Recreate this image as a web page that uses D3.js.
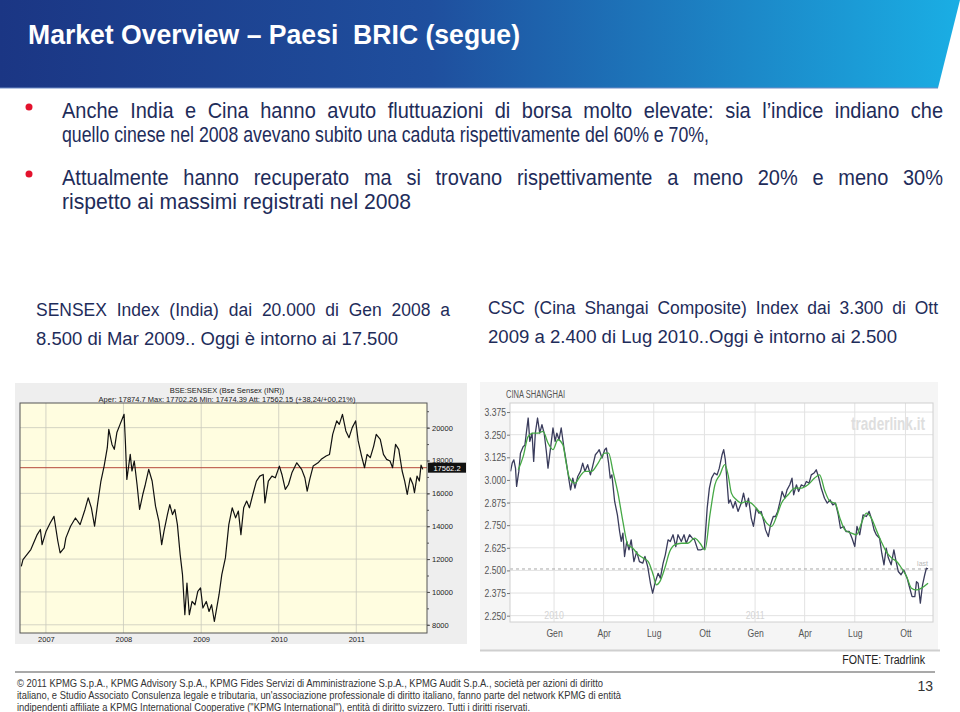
<!DOCTYPE html>
<html>
<head>
<meta charset="utf-8">
<script src="https://cdn.jsdelivr.net/npm/d3@7"></script>
<style>
  body { margin: 0; background: #fff; }
  svg { display: block; }
  text { font-family: "Liberation Sans", Arial, sans-serif; }
</style>
</head>
<body>
<svg id="slide" width="960" height="712"></svg>
<script>
// ---- data ----
const sensexDates = ["2006-09-07","2006-09-15","2006-10-22","2006-11-21","2006-12-06","2006-12-14","2007-01-02","2007-01-21","2007-02-08","2007-02-26","2007-03-09","2007-03-28","2007-04-05","2007-04-27","2007-05-20","2007-06-11","2007-07-04","2007-07-19","2007-08-03","2007-08-18","2007-09-02","2007-09-17","2007-10-02","2007-10-17","2007-10-24","2007-11-08","2007-11-19","2007-12-01","2007-12-16","2008-01-04","2008-01-10","2008-01-17","2008-02-02","2008-02-10","2008-02-21","2008-03-05","2008-03-17","2008-04-01","2008-04-13","2008-04-29","2008-05-15","2008-05-31","2008-06-16","2008-06-29","2008-07-10","2008-07-26","2008-08-06","2008-08-19","2008-08-30","2008-09-11","2008-09-24","2008-10-05","2008-10-16","2008-10-26","2008-11-06","2008-11-19","2008-12-03","2008-12-16","2008-12-29","2009-01-09","2009-01-25","2009-02-07","2009-02-19","2009-03-04","2009-03-15","2009-03-26","2009-04-08","2009-04-25","2009-05-11","2009-05-27","2009-06-12","2009-06-25","2009-07-07","2009-07-20","2009-08-03","2009-08-16","2009-09-01","2009-09-18","2009-10-04","2009-10-20","2009-10-28","2009-11-13","2009-11-30","2009-12-16","2010-01-04","2010-01-16","2010-02-01","2010-02-16","2010-03-04","2010-03-27","2010-04-19","2010-05-04","2010-05-15","2010-05-27","2010-06-12","2010-07-05","2010-07-20","2010-08-12","2010-08-28","2010-09-12","2010-10-01","2010-10-13","2010-10-28","2010-11-13","2010-11-28","2010-12-13","2010-12-29","2011-01-10","2011-01-26","2011-02-09","2011-02-21","2011-03-08","2011-03-24","2011-04-05","2011-04-24","2011-05-09","2011-05-24","2011-06-09","2011-06-21","2011-07-05","2011-07-20","2011-08-05","2011-08-17","2011-08-29","2011-09-12","2011-09-25","2011-10-02","2011-10-14","2011-10-25","2011-11-02","2011-11-10"];
const sensexValues = [11560,11970,12580,13490,13800,12880,13700,14200,14600,13100,12370,12680,13290,14000,14500,14100,15020,15730,15120,14000,15420,16750,17660,18780,19900,18980,18680,19700,20200,20810,19190,16850,18370,17360,17970,16540,15020,15930,16540,17460,16750,15220,14300,12880,13700,14710,15320,14710,15020,14100,12270,11050,8610,10540,8610,9420,9220,10030,10240,9020,9420,8810,9220,8200,9020,9830,11050,12070,14100,15120,14510,14920,13490,15120,15530,15120,15930,16750,17050,17150,15420,16750,17050,16950,17660,17150,16240,16540,17250,17860,17460,16950,16140,16850,17660,17860,18070,18270,18370,19590,20410,20200,20810,19800,19390,20000,20410,19190,18270,17560,18370,18170,18880,19590,19290,18370,18070,17970,17560,18980,18680,17360,16750,15930,16950,16540,16040,17050,16750,17720,17460];
const sensexTicks = [8000,10000,12000,14000,16000,18000,20000];
const sensexYears = ["2007","2008","2009","2010","2011"];
const sensexLast = 17562.2;
const sensexTitle = "BSE:SENSEX (Bse Sensex (INR))";
const sensexInfo = "Aper: 17874.7 Max: 17702.26 Min: 17474.39 Att: 17562.15 (+38,24/+00,21%)";

const cscDates = ["2009-10-14","2009-10-17","2009-10-20","2009-10-23","2009-10-25","2009-10-29","2009-11-01","2009-11-06","2009-11-09","2009-11-12","2009-11-15","2009-11-18","2009-11-22","2009-11-25","2009-11-28","2009-12-02","2009-12-06","2009-12-10","2009-12-14","2009-12-18","2009-12-21","2009-12-26","2009-12-30","2010-01-03","2010-01-06","2010-01-10","2010-01-14","2010-01-19","2010-01-23","2010-01-28","2010-01-31","2010-02-04","2010-02-08","2010-02-13","2010-02-18","2010-02-22","2010-02-26","2010-03-03","2010-03-08","2010-03-12","2010-03-17","2010-03-21","2010-03-24","2010-03-29","2010-04-03","2010-04-06","2010-04-10","2010-04-13","2010-04-16","2010-04-21","2010-04-26","2010-04-30","2010-05-03","2010-05-06","2010-05-09","2010-05-13","2010-05-17","2010-05-21","2010-05-26","2010-05-31","2010-06-05","2010-06-11","2010-06-15","2010-06-20","2010-06-25","2010-06-29","2010-07-04","2010-07-09","2010-07-13","2010-07-18","2010-07-22","2010-07-27","2010-07-31","2010-08-05","2010-08-10","2010-08-14","2010-08-20","2010-08-25","2010-08-29","2010-09-04","2010-09-09","2010-09-13","2010-09-19","2010-09-25","2010-10-01","2010-10-06","2010-10-10","2010-10-14","2010-10-19","2010-10-24","2010-10-28","2010-11-02","2010-11-05","2010-11-08","2010-11-11","2010-11-14","2010-11-17","2010-11-22","2010-11-26","2010-12-01","2010-12-07","2010-12-11","2010-12-16","2010-12-20","2010-12-25","2010-12-29","2011-01-03","2011-01-08","2011-01-12","2011-01-17","2011-01-20","2011-01-25","2011-01-29","2011-02-03","2011-02-07","2011-02-11","2011-02-16","2011-02-19","2011-02-24","2011-02-28","2011-03-05","2011-03-09","2011-03-12","2011-03-17","2011-03-21","2011-03-26","2011-03-31","2011-04-04","2011-04-09","2011-04-13","2011-04-18","2011-04-22","2011-04-26","2011-05-01","2011-05-07","2011-05-12","2011-05-17","2011-05-22","2011-05-27","2011-06-01","2011-06-05","2011-06-11","2011-06-15","2011-06-21","2011-06-26","2011-07-01","2011-07-05","2011-07-10","2011-07-16","2011-07-22","2011-07-27","2011-07-31","2011-08-05","2011-08-09","2011-08-15","2011-08-19","2011-08-23","2011-08-27","2011-08-31","2011-09-05","2011-09-10","2011-09-14","2011-09-18","2011-09-23","2011-09-28","2011-10-04","2011-10-08","2011-10-13","2011-10-18","2011-10-21","2011-10-24","2011-10-28","2011-11-01","2011-11-05","2011-11-08","2011-11-11"];
const cscValues = [3047,3093,3111,3065,2964,3047,3148,3185,3191,3268,3342,3213,3259,3102,3259,3342,3259,3305,3259,3157,3065,3185,3287,3213,3259,3222,3287,3176,3102,3001,2945,3010,2955,3019,3047,3093,3047,3084,3028,3075,3139,3154,3167,3121,3167,3176,3093,3010,3028,2881,2807,2715,2660,2706,2577,2660,2614,2669,2549,2604,2549,2540,2577,2521,2429,2374,2438,2484,2457,2540,2586,2669,2660,2697,2632,2697,2660,2697,2650,2697,2678,2669,2614,2614,2623,2844,2955,3010,3038,3028,3065,3139,3167,3111,2991,2872,2890,2844,2881,2826,2872,2927,2853,2899,2789,2743,2844,2816,2826,2770,2724,2687,2752,2798,2798,2826,2890,2936,2899,2945,2973,3010,2918,2973,2936,2973,2964,2991,2982,3028,3038,3056,3019,2955,2899,2872,2890,2862,2872,2807,2733,2743,2715,2715,2678,2632,2743,2697,2807,2798,2826,2789,2724,2697,2678,2595,2531,2623,2568,2531,2614,2549,2494,2476,2503,2457,2411,2355,2355,2438,2429,2319,2420,2476,2512,2508];
const cscAvgDates = ["2009-10-28","2009-11-06","2009-11-15","2009-11-24","2009-12-03","2009-12-12","2009-12-21","2009-12-30","2010-01-08","2010-01-17","2010-01-23","2010-01-29","2010-02-08","2010-02-17","2010-02-26","2010-03-10","2010-03-22","2010-04-03","2010-04-10","2010-04-18","2010-04-27","2010-05-06","2010-05-15","2010-05-24","2010-06-03","2010-06-12","2010-06-21","2010-06-30","2010-07-06","2010-07-12","2010-07-21","2010-07-30","2010-08-08","2010-08-20","2010-09-01","2010-09-13","2010-09-23","2010-10-02","2010-10-11","2010-10-20","2010-10-29","2010-11-07","2010-11-13","2010-11-19","2010-11-28","2010-12-07","2010-12-16","2010-12-25","2011-01-03","2011-01-13","2011-01-22","2011-01-31","2011-02-09","2011-02-18","2011-03-02","2011-03-14","2011-03-26","2011-04-07","2011-04-19","2011-04-28","2011-05-08","2011-05-17","2011-05-26","2011-06-04","2011-06-13","2011-06-25","2011-07-04","2011-07-13","2011-07-22","2011-07-31","2011-08-09","2011-08-18","2011-08-27","2011-09-06","2011-09-15","2011-09-24","2011-10-03","2011-10-12","2011-10-21","2011-10-30","2011-11-11"];
const cscAvgValues = [3056,3130,3240,3259,3259,3268,3204,3167,3222,3194,3093,3010,2982,3019,3047,3047,3093,3148,3148,3047,2927,2770,2641,2623,2586,2568,2549,2476,2420,2438,2512,2604,2641,2650,2650,2678,2650,2614,2807,2973,3028,3084,3028,2927,2890,2872,2881,2872,2844,2807,2761,2743,2798,2872,2918,2955,2955,2973,3010,3028,2936,2881,2872,2789,2724,2706,2697,2761,2816,2789,2724,2660,2604,2568,2549,2512,2466,2402,2392,2402,2429];
const cscTicks = [2250,2375,2500,2625,2750,2875,3000,3125,3250,3375];
const cscQuarters = ["2010-01-01","2010-04-01","2010-07-01","2010-10-01","2011-01-01","2011-04-01","2011-07-01","2011-10-01"];
const cscMonthNames = ["Gen","Apr","Lug","Ott","Gen","Apr","Lug","Ott"];
const cscYears = ["2010","2011"];

const bullets = [
  ["Anche India e Cina hanno avuto fluttuazioni di borsa molto elevate: sia l\u2019indice indiano che",
   "quello cinese nel 2008 avevano subito una caduta rispettivamente del 60% e 70%,"],
  ["Attualmente hanno recuperato ma si trovano rispettivamente a meno 20% e meno 30%",
   "rispetto ai massimi registrati nel 2008"]
];
const captionLeft = ["SENSEX Index (India) dai 20.000 di Gen 2008 a", "8.500 di Mar 2009.. Oggi \u00e8 intorno ai 17.500"];
const captionRight = ["CSC (Cina Shangai Composite) Index dai 3.300 di Ott", "2009 a 2.400 di Lug 2010..Oggi \u00e8 intorno ai 2.500"];
const footerLines = [
  "\u00a9 2011 KPMG S.p.A., KPMG Advisory S.p.A., KPMG Fides Servizi di Amministrazione S.p.A., KPMG Audit S.p.A., societ\u00e0 per azioni di diritto",
  "italiano, e Studio Associato Consulenza legale e tributaria, un'associazione professionale di diritto italiano, fanno parte del network KPMG di entit\u00e0",
  "indipendenti affiliate a KPMG International Cooperative (\"KPMG International\"), entit\u00e0 di diritto svizzero. Tutti i diritti riservati."
];

const parse = d3.timeParse("%Y-%m-%d");
const svg = d3.select("#slide");
const navy = "#1e2c5a";

// squeeze text horizontally (the original uses a condensed face)
function condense(sel, k) {
  sel.each(function () {
    const w = this.getComputedTextLength();
    d3.select(this).attr("textLength", w * k).attr("lengthAdjust", "spacingAndGlyphs");
  });
}

// paragraph in a condensed face: full lines justified, last line fitted
function paragraph(lines, x, y0, lh, size, widths, k) {
  lines.forEach((t, j) => {
    const n = svg.append("text")
      .attr("x", x / k).attr("y", y0 + j * lh).attr("transform", `scale(${k},1)`)
      .attr("font-size", size).attr("fill", navy).text(t);
    const w = n.node().getComputedTextLength();
    if (j < lines.length - 1) {
      const spaces = t.split(" ").length - 1;
      n.attr("word-spacing", (widths[j] / k - w) / spaces);
    } else {
      n.attr("textLength", widths[j] / k).attr("lengthAdjust", "spacingAndGlyphs");
    }
  });
}

// ---- header band ----
const defs = svg.append("defs");
const grad = defs.append("linearGradient").attr("id", "band");
grad.append("stop").attr("offset", "0%").attr("stop-color", "#1b3684");
grad.append("stop").attr("offset", "45%").attr("stop-color", "#1f4f9e");
grad.append("stop").attr("offset", "100%").attr("stop-color", "#1aaee4");
svg.append("path").attr("d", "M0,0 L960,0 L938,88 L0,88 Z").attr("fill", "url(#band)");
svg.append("line").attr("x1", 0).attr("x2", 938).attr("y1", 88).attr("y2", 88)
  .attr("stroke", "#6f8cc6").attr("stroke-width", 1);
svg.append("text").attr("x", 28).attr("y", 44)
  .attr("fill", "#fff").attr("font-size", 27).attr("font-weight", "bold")
  .attr("textLength", 492).attr("lengthAdjust", "spacingAndGlyphs")
  .text("Market Overview \u2013 Paesi  BRIC (segue)").style("white-space", "pre");

// ---- bullets ----
const bulletY = [118, 185];
const lineWidths = [[881, 647], [881, 349]];
bullets.forEach((lines, i) => {
  svg.append("circle").attr("cx", 29).attr("cy", bulletY[i] - 11).attr("r", 3.5).attr("fill", "#e3122d");
  paragraph(lines, 62, bulletY[i], 24, 21.5, lineWidths[i], 0.93);
});

// ---- captions ----
paragraph(captionLeft, 36, 316, 29, 19, [414, 362], 0.92);
paragraph(captionRight, 488, 314, 29, 19, [450, 409], 0.92);

// ---- left chart: SENSEX ----
(function () {
  const m = { left: 20, right: 427, top: 403, bottom: 633 };
  svg.append("rect").attr("x", 15).attr("y", 383).attr("width", 452).attr("height", 261).attr("fill", "#eeeeee");
  svg.append("rect").attr("x", m.left).attr("y", m.top).attr("width", m.right - m.left).attr("height", m.bottom - m.top)
    .attr("fill", "#fffde0");

  const x = d3.scaleTime().domain([parse("2006-09-01"), parse("2011-11-30")]).range([m.left, m.right]);
  const y = d3.scaleLinear().domain([7500, 21500]).range([m.bottom, m.top]);
  const yearDates = sensexYears.map(s => parse(s + "-01-01"));

  const g = svg.append("g");
  g.selectAll("line.vg").data(yearDates).join("line")
    .attr("x1", d => x(d)).attr("x2", d => x(d)).attr("y1", m.top).attr("y2", m.bottom)
    .attr("stroke", "#c9c9bd").attr("stroke-width", 0.8);
  g.selectAll("line.hg").data(sensexTicks).join("line")
    .attr("x1", m.left).attr("x2", m.right).attr("y1", d => y(d)).attr("y2", d => y(d))
    .attr("stroke", "#c9c9bd").attr("stroke-width", 0.8);

  // last price line
  g.append("line").attr("x1", m.left).attr("x2", m.right).attr("y1", y(sensexLast)).attr("y2", y(sensexLast))
    .attr("stroke", "#b5473a").attr("stroke-width", 1);

  const pts = sensexDates.map((d, i) => [parse(d), sensexValues[i]]);
  g.append("path").datum(pts)
    .attr("d", d3.line().x(d => x(d[0])).y(d => y(d[1])))
    .attr("fill", "none").attr("stroke", "#111").attr("stroke-width", 1.2).attr("stroke-linejoin", "round");

  g.append("rect").attr("x", m.left).attr("y", m.top).attr("width", m.right - m.left).attr("height", m.bottom - m.top)
    .attr("fill", "none").attr("stroke", "#555").attr("stroke-width", 1);

  // right axis
  const ya = svg.append("g").attr("transform", `translate(${m.right},0)`)
    .call(d3.axisRight(y).tickValues(sensexTicks).tickSize(3).tickPadding(2).tickFormat(d3.format("d")));
  ya.select(".domain").remove();
  ya.selectAll("text").attr("font-size", 7.5).attr("fill", "#222");
  ya.selectAll("line").attr("stroke", "#555");
  svg.append("g").attr("transform", `translate(${m.right},0)`)
    .call(d3.axisRight(y).ticks(14).tickSize(2).tickFormat(""))
    .call(s => s.select(".domain").remove())
    .selectAll("line").attr("stroke", "#555");

  // bottom axis
  const xa = svg.append("g").attr("transform", `translate(0,${m.bottom})`)
    .call(d3.axisBottom(x).tickValues(yearDates).tickSize(0).tickPadding(4).tickFormat(d3.timeFormat("%Y")));
  xa.select(".domain").remove();
  xa.selectAll("text").attr("font-size", 7.5).attr("fill", "#222");

  // last value label
  svg.append("rect").attr("x", 428).attr("y", y(sensexLast) - 5).attr("width", 38).attr("height", 10).attr("fill", "#111");
  svg.append("text").attr("x", 447).attr("y", y(sensexLast) + 3).attr("text-anchor", "middle")
    .attr("font-size", 7.5).attr("fill", "#fff").text(d3.format(".1f")(sensexLast));

  // header
  svg.append("text").attr("x", 227).attr("y", 393).attr("text-anchor", "middle").attr("font-size", 7.5).attr("fill", "#222").text(sensexTitle);
  svg.append("text").attr("x", 227).attr("y", 401.5).attr("text-anchor", "middle").attr("font-size", 7.5).attr("fill", "#222").text(sensexInfo);
})();

// ---- right chart: CSC ----
(function () {
  const m = { left: 510, right: 933, top: 403, bottom: 622 };
  svg.append("rect").attr("x", 480).attr("y", 382).attr("width", 458).attr("height", 268).attr("fill", "#f5f5f5");
  svg.append("line").attr("x1", 480).attr("x2", 940).attr("y1", 650.5).attr("y2", 650.5).attr("stroke", "#cfcfcf").attr("stroke-width", 2);
  svg.append("rect").attr("x", m.left).attr("y", m.top).attr("width", m.right - m.left).attr("height", m.bottom - m.top)
    .attr("fill", "#fff");

  const x = d3.scaleTime().domain([parse("2009-10-13"), parse("2011-11-20")]).range([m.left, m.right]);
  const y = d3.scaleLinear().domain([2215, 3425]).range([m.bottom, m.top]);
  const qDates = cscQuarters.map(parse);
  const it = d3.formatLocale({ decimal: ",", thousands: ".", grouping: [3], currency: ["\u20ac", ""] });

  const g = svg.append("g");
  g.selectAll("line.vg").data(qDates).join("line")
    .attr("x1", d => x(d)).attr("x2", d => x(d)).attr("y1", m.top).attr("y2", m.bottom)
    .attr("stroke", "#e2e2e2").attr("stroke-width", 1);
  g.selectAll("line.hg").data(cscTicks).join("line")
    .attr("x1", m.left).attr("x2", m.right).attr("y1", d => y(d)).attr("y2", d => y(d))
    .attr("stroke", "#e2e2e2").attr("stroke-width", 1);

  // watermark + year labels
  g.append("text").attr("x", 925).attr("y", 430).attr("text-anchor", "end")
    .attr("font-weight", "bold").attr("font-size", 19).attr("fill", "#dedede")
    .attr("textLength", 74).attr("lengthAdjust", "spacingAndGlyphs").text("traderlink.it");
  g.selectAll("text.yr").data(cscYears).join("text")
    .attr("x", d => x(parse(d + "-01-01"))).attr("y", 619).attr("text-anchor", "middle")
    .attr("font-size", 11).attr("fill", "#d4d4d4").text(d => d)
    .call(condense, 0.8);

  const lastV = cscValues[cscValues.length - 1];
  g.append("line").attr("x1", m.left).attr("x2", m.right).attr("y1", y(lastV)).attr("y2", y(lastV))
    .attr("stroke", "#a8a8a8").attr("stroke-dasharray", "3,3").attr("stroke-width", 1);
  g.append("text").attr("x", 928).attr("y", y(lastV) - 3).attr("text-anchor", "end")
    .attr("font-size", 7).attr("fill", "#b8b8b8").text("last");

  const avg = cscAvgDates.map((d, i) => [parse(d), cscAvgValues[i]]);
  const main = cscDates.map((d, i) => [parse(d), cscValues[i]]);
  const line = d3.line().x(d => x(d[0])).y(d => y(d[1]));
  g.append("path").datum(main).attr("d", line)
    .attr("fill", "none").attr("stroke", "#3a3c5c").attr("stroke-width", 1.3).attr("stroke-linejoin", "round");
  g.append("path").datum(avg).attr("d", line.curve(d3.curveMonotoneX))
    .attr("fill", "none").attr("stroke", "#45a845").attr("stroke-width", 1.3);

  g.append("rect").attr("x", m.left).attr("y", m.top).attr("width", m.right - m.left).attr("height", m.bottom - m.top)
    .attr("fill", "none").attr("stroke", "#d0d0d0").attr("stroke-width", 1);

  const ya = svg.append("g").attr("transform", `translate(${m.left},0)`)
    .call(d3.axisLeft(y).tickValues(cscTicks).tickSize(3).tickPadding(1).tickFormat(it.format(",")));
  ya.select(".domain").remove();
  ya.selectAll("line").attr("stroke", "#777");
  ya.selectAll("text").attr("font-size", 11).attr("fill", "#555").call(condense, 0.78);

  const xa = svg.append("g").attr("transform", `translate(0,${m.bottom})`)
    .call(d3.axisBottom(x).tickValues(qDates).tickSize(0).tickPadding(7).tickFormat((d, i) => cscMonthNames[i]));
  xa.select(".domain").remove();
  xa.selectAll("text").attr("font-size", 11.5).attr("fill", "#555").call(condense, 0.75);

  svg.append("text").attr("x", 506).attr("y", 398).attr("font-size", 10)
    .attr("fill", "#555").text("CINA SHANGHAI")
    .attr("textLength", 59).attr("lengthAdjust", "spacingAndGlyphs");
})();

// ---- footer ----
svg.append("text").attr("x", 925).attr("y", 664).attr("text-anchor", "end").attr("font-size", 12.5).attr("fill", "#222")
  .text("FONTE: Tradrlink").call(condense, 0.85);
svg.append("line").attr("x1", 15).attr("x2", 935).attr("y1", 672).attr("y2", 672).attr("stroke", "#a9a9a9").attr("stroke-width", 2);
const footW = [586, 604, 513];
footerLines.forEach((t, j) => {
  svg.append("text").attr("x", 17).attr("y", 687 + j * 12).attr("font-size", 10.5).attr("fill", "#333")
    .attr("textLength", footW[j]).attr("lengthAdjust", "spacingAndGlyphs").text(t);
});
svg.append("text").attr("x", 933).attr("y", 691).attr("text-anchor", "end").attr("font-size", 14).attr("fill", "#333").text("13");
</script>
</body>
</html>
